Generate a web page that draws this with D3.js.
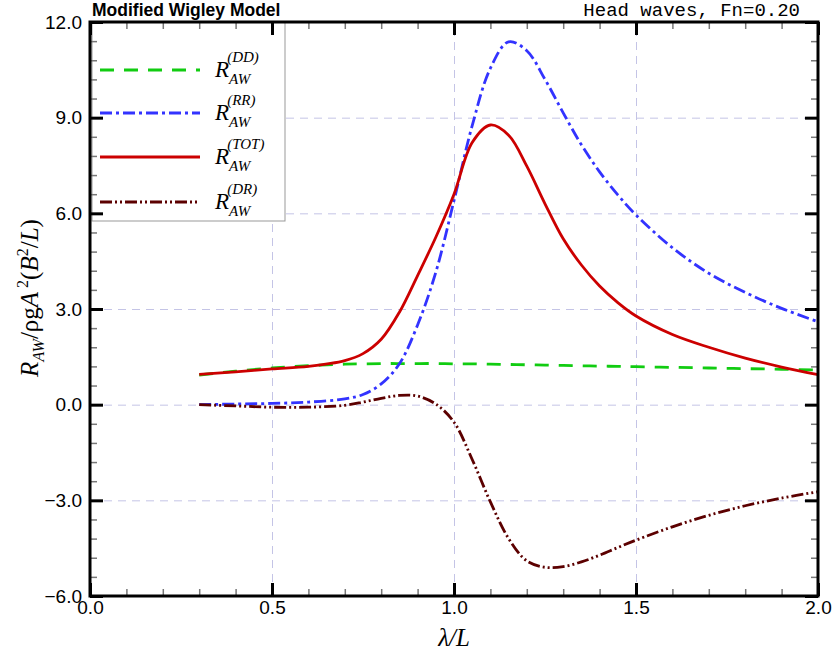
<!DOCTYPE html>
<html lang="en">
<head>
  <meta charset="UTF-8">
  <title>Modified Wigley Model</title>
  <script src="https://d3js.org/d3.v7.min.js"></script>
  <style>
    body { margin: 0; background: #fff; }
    svg { display: block; }
    .tick-label { font-family: "Liberation Sans", Arial, sans-serif; fill: #000; }
    .serif { font-family: "Liberation Serif", "Times New Roman", serif; }
  </style>
</head>
<body>
<div id="chart"></div>
<script>
  // Data
  const lambda = [0.30, 0.40, 0.50, 0.60, 0.70, 0.75, 0.80, 0.85, 0.90, 0.95, 1.00, 1.05, 1.10,
                  1.15, 1.20, 1.25, 1.30, 1.35, 1.40, 1.45, 1.50, 1.60, 1.70, 1.80, 1.90, 2.00];
  const rawDD  = [0.93, 1.05, 1.15, 1.22, 1.27, 1.28, 1.29, 1.29, 1.29, 1.29, 1.28, 1.28, 1.27,
                  1.26, 1.25, 1.24, 1.23, 1.22, 1.21, 1.20, 1.19, 1.17, 1.15, 1.13, 1.11, 1.09];
  const rawRR  = [0.00, 0.02, 0.04, 0.08, 0.18, 0.32, 0.65, 1.28, 2.50, 4.15, 6.40, 8.75, 10.55,
                  11.38, 11.10, 10.20, 9.15, 8.15, 7.30, 6.58, 5.95, 4.92, 4.12, 3.52, 3.02, 2.60];
  const rawTOT = [0.95, 1.03, 1.12, 1.20, 1.38, 1.60, 2.05, 2.90, 4.05, 5.25, 6.60, 8.22, 8.77,
                  8.45, 7.48, 6.30, 5.20, 4.38, 3.72, 3.20, 2.78, 2.20, 1.80, 1.46, 1.18, 0.94];
  const rawDR  = [0.00, -0.04, -0.08, -0.08, -0.02, 0.08, 0.20, 0.29, 0.27, 0.02, -0.55, -1.72, -3.05,
                  -4.20, -4.90, -5.10, -5.08, -4.93, -4.72, -4.48, -4.25, -3.83, -3.47, -3.17, -2.93, -2.73];

  const xTicks = [0.0, 0.5, 1.0, 1.5, 2.0];
  const yTicks = [-6, -3, 0, 3, 6, 9, 12];

  const series = [
    { key: "DD",  values: rawDD,  color: "#11cc11", dash: "14,10" },
    { key: "RR",  values: rawRR,  color: "#3333ff", dash: "12,4,3,4" },
    { key: "TOT", values: rawTOT, color: "#cc0000", dash: null },
    { key: "DR",  values: rawDR,  color: "#5c0000", dash: "12,3,2,3,2,3" }
  ];

  const W = 836, H = 660;
  const pLeft = 90, pRight = 818, pTop = 22, pBottom = 596;

  const svg = d3.select("#chart").append("svg")
    .attr("width", W).attr("height", H);

  const x = d3.scaleLinear().domain([0, 2]).range([pLeft, pRight]);
  const y = d3.scaleLinear().domain([-6, 12]).range([pBottom, pTop]);

  // grid
  const gridStyle = g => g.call(s => s.select(".domain").remove())
    .selectAll("line").attr("stroke", "#c4c4e6").attr("stroke-width", 1).attr("stroke-dasharray", "8,6");

  svg.append("g")
    .attr("transform", `translate(0,${pBottom})`)
    .call(d3.axisBottom(x).tickValues([0.5, 1.0, 1.5]).tickSize(-(pBottom - pTop)).tickFormat(""))
    .call(gridStyle);

  svg.append("g")
    .attr("transform", `translate(${pLeft},0)`)
    .call(d3.axisLeft(y).tickValues([-3, 0, 3, 6, 9]).tickSize(-(pRight - pLeft)).tickFormat(""))
    .call(gridStyle);

  // curves
  const line = d3.line()
    .x((d, i) => x(lambda[i]))
    .y(d => y(d))
    .curve(d3.curveCatmullRom.alpha(0.5));

  series.forEach(s => {
    svg.append("path")
      .datum(s.values)
      .attr("fill", "none")
      .attr("stroke", s.color)
      .attr("stroke-width", 2.8)
      .attr("stroke-dasharray", s.dash)
      .attr("d", line);
  });

  // legend
  const legend = svg.append("g").attr("id", "legend");
  legend.append("rect")
    .attr("x", 92).attr("y", 22).attr("width", 193).attr("height", 199)
    .attr("fill", "#fff").attr("stroke", "#999").attr("stroke-width", 1);

  const legendY = [70, 113, 157, 202];
  series.forEach((s, i) => {
    legend.append("line")
      .attr("x1", 100).attr("x2", 200)
      .attr("y1", legendY[i]).attr("y2", legendY[i])
      .attr("stroke", s.color).attr("stroke-width", 2.8)
      .attr("stroke-dasharray", s.dash);
    const t = legend.append("text")
      .attr("class", "serif")
      .attr("x", 215).attr("y", legendY[i] + 7)
      .attr("font-size", 23).attr("font-style", "italic");
    t.append("tspan").text("R");
    t.append("tspan").attr("font-size", 15).attr("dy", 7).text("AW");
    t.append("tspan").attr("font-size", 15).attr("dx", -23).attr("dy", -22).text(`(${s.key})`);
  });

  // axes: major and minor ticks on all four sides, pointing inward
  const minorX = d3.range(0, 2.0001, 0.1).filter(v => Math.abs(v * 2 - Math.round(v * 2)) > 1e-6);
  const minorY = d3.range(-6, 12.0001, 0.6).filter(v => Math.abs(v / 3 - Math.round(v / 3)) > 1e-6);

  const tickStyle = (g, major) => {
    g.select(".domain").remove();
    g.selectAll("line")
      .attr("stroke", major ? "#000" : "#777")
      .attr("stroke-width", major ? 3 : 1.5);
  };

  // minor
  svg.append("g").attr("transform", `translate(0,${pBottom})`)
    .call(d3.axisBottom(x).tickValues(minorX).tickSize(-7).tickFormat(""))
    .call(g => tickStyle(g, false));
  svg.append("g").attr("transform", `translate(0,${pTop})`)
    .call(d3.axisTop(x).tickValues(minorX).tickSize(-7).tickFormat(""))
    .call(g => tickStyle(g, false));
  svg.append("g").attr("transform", `translate(${pLeft},0)`)
    .call(d3.axisLeft(y).tickValues(minorY).tickSize(-7).tickFormat(""))
    .call(g => tickStyle(g, false));
  svg.append("g").attr("transform", `translate(${pRight},0)`)
    .call(d3.axisRight(y).tickValues(minorY).tickSize(-7).tickFormat(""))
    .call(g => tickStyle(g, false));

  // major
  svg.append("g").attr("transform", `translate(0,${pTop})`)
    .call(d3.axisTop(x).tickValues(xTicks).tickSize(-13).tickFormat(""))
    .call(g => tickStyle(g, true));
  svg.append("g").attr("transform", `translate(${pRight},0)`)
    .call(d3.axisRight(y).tickValues(yTicks).tickSize(-13).tickFormat(""))
    .call(g => tickStyle(g, true));

  const xAxis = svg.append("g").attr("transform", `translate(0,${pBottom})`)
    .call(d3.axisBottom(x).tickValues(xTicks).tickSize(-13).tickPadding(5).tickFormat(d3.format(".1f")))
    .call(g => tickStyle(g, true));
  xAxis.selectAll("text").attr("class", "tick-label").attr("font-size", 19);

  const yAxis = svg.append("g").attr("transform", `translate(${pLeft},0)`)
    .call(d3.axisLeft(y).tickValues(yTicks).tickSize(-13).tickPadding(8).tickFormat(d3.format(".1f")))
    .call(g => tickStyle(g, true));
  yAxis.selectAll("text").attr("class", "tick-label").attr("font-size", 19);

  // frame
  svg.append("rect")
    .attr("x", pLeft).attr("y", pTop)
    .attr("width", pRight - pLeft).attr("height", pBottom - pTop)
    .attr("fill", "none").attr("stroke", "#000").attr("stroke-width", 3);

  // titles
  svg.append("text")
    .attr("x", 92).attr("y", 16)
    .attr("font-family", "Liberation Sans, Arial, sans-serif")
    .attr("font-weight", "bold").attr("font-size", 17.5)
    .text("Modified Wigley Model");

  svg.append("text")
    .attr("x", 800).attr("y", 16)
    .attr("text-anchor", "end")
    .attr("font-family", "Liberation Mono, Courier New, monospace")
    .attr("font-size", 19)
    .text("Head waves, Fn=0.20");

  // axis labels
  const xl = svg.append("text")
    .attr("class", "serif")
    .attr("x", (pLeft + pRight) / 2).attr("y", 646)
    .attr("text-anchor", "middle").attr("font-size", 25).attr("font-style", "italic");
  xl.append("tspan").text("λ/L");

  const yl = svg.append("text")
    .attr("class", "serif")
    .attr("transform", "translate(38,298) rotate(-90)")
    .attr("text-anchor", "middle").attr("font-size", 25);
  yl.append("tspan").attr("font-style", "italic").text("R");
  yl.append("tspan").attr("font-style", "italic").attr("font-size", 16).attr("dy", 6).text("AW");
  yl.append("tspan").attr("dy", -6).text("/ρg");
  yl.append("tspan").attr("font-style", "italic").text("A");
  yl.append("tspan").attr("font-size", 16).attr("dy", -10).text(" 2");
  yl.append("tspan").attr("dy", 10).text("(");
  yl.append("tspan").attr("font-style", "italic").text("B");
  yl.append("tspan").attr("font-size", 16).attr("dy", -10).text("2");
  yl.append("tspan").attr("dy", 10).text("/");
  yl.append("tspan").attr("font-style", "italic").text("L");
  yl.append("tspan").text(")");
</script>
</body>
</html>
